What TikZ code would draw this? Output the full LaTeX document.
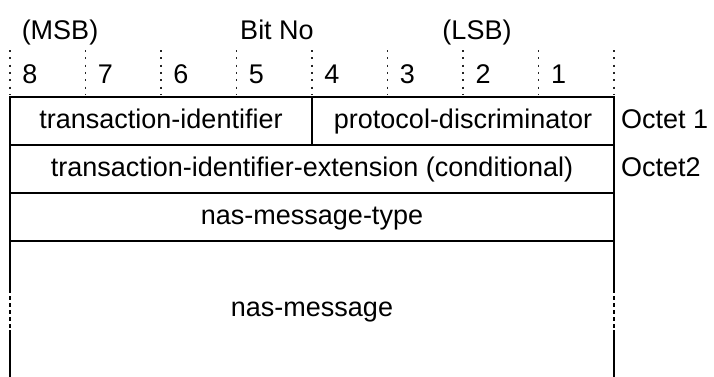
\documentclass[tikz,border=0pt]{standalone}
\usepackage{fontspec}
\setmainfont{Liberation Sans}
\usepackage{tikz}
\usetikzlibrary{positioning}

\begin{document}
\begin{tikzpicture}[x=1pt,y=-1pt,font=\fontsize{27}{31}\selectfont]
\tikzstyle{field}=[draw, line width=2pt, minimum height=48pt, inner sep=0pt, text height=19pt, text depth=5pt]
\tikzstyle{txt}=[inner sep=0pt, text height=19pt, text depth=5pt]
\tikzstyle{tick}=[line width=1.6pt, dash pattern=on 2pt off 5.3pt, black!85]
\tikzstyle{side}=[line width=2pt]
\tikzstyle{gap}=[line width=1.2pt, dash pattern=on 4pt off 3pt]

\useasboundingbox (0,0) rectangle (714,376);

\node[txt](msb) at (60,32){(MSB)};
\node[txt](bitno) at (277,32){Bit No};
\node[txt](lsb) at (477,32){(LSB)};

\draw [tick] (10,50) -- (10,94);
\draw [tick] (85.5,50) -- (85.5,94);
\draw [tick] (161,50) -- (161,94);
\draw [tick] (236.5,50) -- (236.5,94);
\draw [tick] (312,50) -- (312,94);
\draw [tick] (387.5,50) -- (387.5,94);
\draw [tick] (463,50) -- (463,94);
\draw [tick] (538.5,50) -- (538.5,94);
\draw [tick] (614,50) -- (614,94);

\node[txt](b8) at (30,76){8};
\node[txt](b7) at (105.5,76){7};
\node[txt](b6) at (181,76){6};
\node[txt](b5) at (256.5,76){5};
\node[txt](b4) at (332,76){4};
\node[txt](b3) at (407.5,76){3};
\node[txt](b2) at (483,76){2};
\node[txt](b1) at (558.5,76){1};

\node[field,minimum width=302pt](tid) at (161,121){transaction-identifier};
\node[field,minimum width=302pt](pd) at (463,121){protocol-discriminator};
\node[field,minimum width=604pt](tie) at (312,169){transaction-identifier-extension (conditional)};
\node[field,minimum width=604pt](nmt) at (312,217){nas-message-type};
\node[txt](nm) at (312,309){nas-message};

\node[txt,right=6pt of pd](oct1){Octet 1};
\node[txt,right=6pt of tie](oct2){Octet2};

\draw [side] (10,241) -- (10,289);
\draw [gap] (10,289) -- (10,330);
\draw [side] (10,330) -- (10,377);
\draw [side] (614,241) -- (614,289);
\draw [gap] (614,289) -- (614,330);
\draw [side] (614,330) -- (614,377);
\end{tikzpicture}
\end{document}
